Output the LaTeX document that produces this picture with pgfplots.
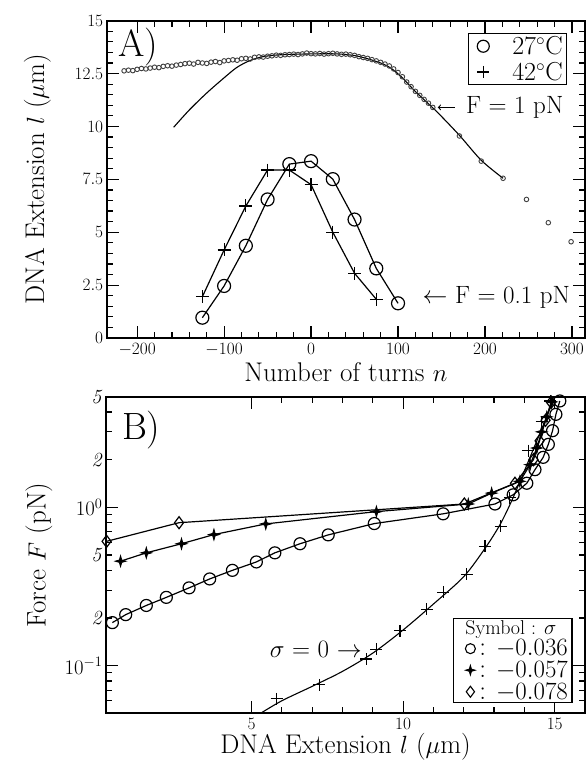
\documentclass[border=0pt]{standalone}
\usepackage{pgfplots}
\pgfplotsset{compat=1.18}

% four-pointed star used for sigma = -0.057
\pgfdeclareplotmark{star4}{%
  \pgfpathmoveto{\pgfqpoint{0pt}{\pgfplotmarksize}}%
  \pgfpathlineto{\pgfqpoint{0.22\pgfplotmarksize}{0.22\pgfplotmarksize}}%
  \pgfpathlineto{\pgfqpoint{\pgfplotmarksize}{0pt}}%
  \pgfpathlineto{\pgfqpoint{0.22\pgfplotmarksize}{-0.22\pgfplotmarksize}}%
  \pgfpathlineto{\pgfqpoint{0pt}{-\pgfplotmarksize}}%
  \pgfpathlineto{\pgfqpoint{-0.22\pgfplotmarksize}{-0.22\pgfplotmarksize}}%
  \pgfpathlineto{\pgfqpoint{-\pgfplotmarksize}{0pt}}%
  \pgfpathlineto{\pgfqpoint{-0.22\pgfplotmarksize}{0.22\pgfplotmarksize}}%
  \pgfpathclose
  \pgfusepathqfillstroke
}

\pgfplotsset{
  panel/.style={
    scale only axis,
    axis line style={line width=1.8pt},
    every tick/.style={black, line width=1.2pt},
    major tick length=12pt,
    minor tick length=6pt,
    tick label style={font=\fontsize{18}{20}\selectfont},
    xticklabel style={yshift=-2pt},
    label style={font=\fontsize{27}{32}\selectfont},
  },
  mk/.style={black, line width=1.2pt},
}

\begin{document}
\begin{tikzpicture}
\useasboundingbox (0,0) rectangle (587pt,762pt);

% ---------------- panel A ----------------
\begin{axis}[panel,
  at={(106.7pt,424pt)}, anchor=south west,
  width=478.3pt, height=317.3pt,
  xmin=-235, xmax=315, ymin=0, ymax=15,
  xtick={-200,-100,...,300},
  ytick={0,2.5,...,15},
  minor x tick num=4, minor y tick num=4,
  xlabel={Number of turns $n$},
  ylabel={DNA Extension $l$ ($\mu$m)},
  xlabel style={at={(axis description cs:0.5,-0.108)}, anchor=center},
  ylabel style={at={(axis description cs:-0.145,0.5)}, anchor=center},
  legend style={at={(0.963,0.962)}, anchor=north east,
    font=\fontsize{26}{26}\selectfont, draw=black, line width=1.3pt,
    inner xsep=2pt, inner ysep=2pt, row sep=4pt, column sep=0pt,
    nodes={inner xsep=2pt, inner ysep=1pt}, cells={anchor=west}},
]
\addlegendimage{legend image code/.code={\path[draw=none] (0pt,0pt) -- (28pt,0pt); \draw[line width=1.2pt] plot[mark=o, mark size=6pt] coordinates {(13pt,0pt)};}}
\addlegendentry{\hspace{12pt}27$^\circ$C}
\addlegendimage{legend image code/.code={\path[draw=none] (0pt,0pt) -- (28pt,0pt); \draw[line width=1.2pt] plot[mark=+, mark size=6pt] coordinates {(13pt,0pt)};}}
\addlegendentry{\hspace{12pt}42$^\circ$C}

% F = 1 pN, measured points
\addplot[only marks, mark=o, mark size=2.3pt, mark options={black!75, line width=0.9pt}, forget plot] coordinates {
(-215,12.63) (-210,12.66) (-205,12.64) (-200,12.70) (-195,12.74) (-190,12.72)
(-185,12.76) (-180,12.80) (-175,12.78) (-170,12.84) (-165,12.87) (-160,12.85)
(-155,12.90) (-150,12.93) (-145,12.97) (-140,12.99) (-135,12.95) (-130,13.03)
(-125,13.00) (-120,12.98) (-115,13.04) (-110,13.07) (-105,13.02) (-100,13.10)
(-95,13.12) (-90,13.15) (-85,13.13) (-80,13.20) (-75,13.22) (-70,13.19)
(-65,13.27) (-60,13.29) (-55,13.28) (-50,13.32) (-45,13.34) (-40,13.37)
(-35,13.36) (-30,13.39) (-25,13.40) (-20,13.42) (-15,13.40) (-10,13.43)
(-5,13.47) (0,13.44) (5,13.43) (10,13.45) (15,13.42) (20,13.44)
(25,13.46) (30,13.43) (35,13.41) (40,13.42) (45,13.39) (50,13.36)
(55,13.30) (60,13.26) (65,13.22) (70,13.16) (75,13.10) (80,13.03)
(85,12.95) (90,12.86) (95,12.72) (100,12.55) (105,12.35) (110,12.10)
(115,11.88) (120,11.66) (125,11.47) (130,11.28) (135,11.10) (140,10.90)
(170.6,9.55) (195.7,8.36) (220.8,7.55) (247.7,6.55) (272.8,5.45) (299,4.55)
};
% F = 1 pN, theory
\addplot[black, line width=1.1pt, smooth, tension=0.5, forget plot] coordinates {
(-158,9.96) (-140,10.78) (-120,11.58) (-100,12.30) (-85,12.80)
(-70,13.12) (-55,13.30) (-35,13.39) (0,13.43) (30,13.43)
(50,13.35) (65,13.20) (80,13.00) (92,12.75) (105,12.30) (120,11.65)
(145,10.68) (170.6,9.58) (195.7,8.40) (220.8,7.55)
};
% F = 0.1 pN, 27 C
\addplot[mk, mark=o, mark size=6.5pt, forget plot] coordinates {
(-125,0.96) (-100,2.46) (-75,4.36) (-50,6.55) (-25,8.22) (0,8.36)
(25,7.51) (50,5.6) (75,3.29) (100,1.64)
};
% F = 0.1 pN, 42 C
\addplot[mk, mark=+, mark size=6.5pt, forget plot] coordinates {
(-125,1.95) (-100,4.16) (-75,6.24) (-50,7.94) (-25,7.94) (0,7.25)
(25,5.0) (50,3.06) (75,1.83)
};

\draw[->, line width=1.1pt] (axis cs:165,10.9) -- (axis cs:145.7,10.9);
\node[anchor=west, font=\fontsize{25}{25}\selectfont, inner sep=0pt] at (axis cs:178,10.9) {F = 1 pN};
\node[anchor=west, font=\fontsize{25}{25}\selectfont, inner sep=0pt] at (axis cs:128,1.92) {$\leftarrow$ F = 0.1 pN};
\node[anchor=north west, font=\fontsize{38}{40}\selectfont, inner sep=0pt] at (axis description cs:0.024,0.977) {A)};
\end{axis}

% ---------------- panel B ----------------
\begin{semilogyaxis}[panel,
  at={(106pt,48.7pt)}, anchor=south west,
  width=479pt, height=316.6pt,
  xmin=0.2, xmax=16, ymin=0.05, ymax=5,
  xtick={5,10,15}, minor x tick num=4,
  ytick={0.1,1}, yticklabels={$10^{-1}$,$10^{0}$},
  yticklabel style={font=\fontsize{20}{22}\selectfont},
  minor ytick={0.06,0.07,0.08,0.09,0.3,0.4,0.6,0.7,0.8,0.9,3,4},
  extra y ticks={0.2,0.5,2,5},
  extra y tick labels={\textit{2},\textit{5},\textit{2},\textit{5}},
  extra y tick style={major tick length=6pt,
    tick label style={font=\fontsize{16}{16}\selectfont}},
  xlabel={DNA Extension $l$ ($\mu$m)},
  ylabel={Force $F$ (pN)},
  xlabel style={at={(axis description cs:0.5,-0.105)}, anchor=center},
  ylabel style={at={(axis description cs:-0.14,0.5)}, anchor=center},
  legend style={at={(0.974,0.032)}, anchor=south east,
    font=\fontsize{27}{27}\selectfont, draw=black, line width=1.3pt,
    inner xsep=2pt, inner ysep=1pt, row sep=2pt, column sep=0pt,
    nodes={inner xsep=2pt, inner ysep=1pt}, cells={anchor=west}},
]
\addlegendimage{empty legend}
\addlegendentry{\hspace{-14pt}{\fontsize{20}{20}\selectfont Symbol : $\sigma$}}
\addlegendimage{legend image code/.code={\path[draw=none] (0pt,0pt) -- (22pt,0pt); \draw[line width=1.1pt] plot[mark=o, mark size=5pt] coordinates {(15pt,0pt)};}}
\addlegendentry{:\hspace{10pt}$-0.036$}
\addlegendimage{legend image code/.code={\path[draw=none] (0pt,0pt) -- (22pt,0pt); \draw[line width=0.8pt, fill=black] plot[mark=star4, mark size=5pt] coordinates {(15pt,0pt)};}}
\addlegendentry{:\hspace{10pt}$-0.057$}
\addlegendimage{legend image code/.code={\path[draw=none] (0pt,0pt) -- (22pt,0pt); \draw[line width=1.1pt] plot[mark=diamond, mark size=5.5pt] coordinates {(15pt,0pt)};}}
\addlegendentry{:\hspace{10pt}$-0.078$}

% sigma = -0.036
\addplot[mk, mark=o, mark size=6pt, forget plot] coordinates {
(0.41,0.187) (0.85,0.21) (1.53,0.24) (2.19,0.27) (2.94,0.31) (3.62,0.353)
(4.37,0.40) (5.16,0.452) (5.77,0.516) (6.6,0.589) (7.53,0.67) (9.05,0.79)
(11.32,0.91) (13.03,1.05) (13.63,1.2) (14.08,1.42) (14.35,1.73) (14.62,2.07)
(14.79,2.5) (14.93,3.05) (15.04,3.87) (15.17,4.7)
};
% sigma = -0.057
\addplot[mk, mark=star4, mark size=5.5pt, mark options={fill=black, line width=0.8pt}, forget plot] coordinates {
(0.68,0.457) (1.53,0.516) (2.69,0.589) (3.76,0.673) (5.47,0.786) (9.12,0.94)
(12.15,1.05) (12.92,1.23) (13.85,1.46) (14.19,1.86) (14.41,2.37) (14.57,3.0)
(14.74,3.73) (14.9,4.64)
};
% sigma = -0.078
\addplot[mk, mark=diamond, mark size=6pt, forget plot] coordinates {
(0.22,0.61) (2.61,0.8) (12.02,1.05) (13.69,1.42) (14.3,2.0) (14.5,2.63)
(14.7,3.55) (14.88,4.6)
};
% sigma = 0, theory
\addplot[black, line width=1.1pt, smooth, forget plot] coordinates {
(5.3,0.050) (6.0,0.060) (7.0,0.074) (8.0,0.092) (9.0,0.120) (10.0,0.168)
(11.0,0.245) (12.0,0.365) (12.7,0.55) (13.2,0.78) (13.6,1.12) (14.0,1.7)
(14.4,2.6) (14.7,3.6) (15.0,5.0)
};
% sigma = 0, measured
\addplot[mk, only marks, mark=+, mark size=6pt, forget plot] coordinates {
(5.83,0.0617) (7.23,0.0757) (8.79,0.110) (9.12,0.127) (9.9,0.166)
(10.78,0.227) (11.32,0.29) (12.1,0.377) (12.7,0.569) (13.22,0.76)
(13.52,1.15) (14.13,2.28) (14.57,3.47) (14.86,4.7)
};

\node[anchor=west, font=\fontsize{25}{25}\selectfont, inner sep=0pt] at (axis cs:5.6,0.127) {$\sigma$ = 0 $\rightarrow$};
\node[anchor=north west, font=\fontsize{38}{40}\selectfont, inner sep=0pt] at (axis description cs:0.033,0.955) {B)};
\end{semilogyaxis}
\end{tikzpicture}
\end{document}
